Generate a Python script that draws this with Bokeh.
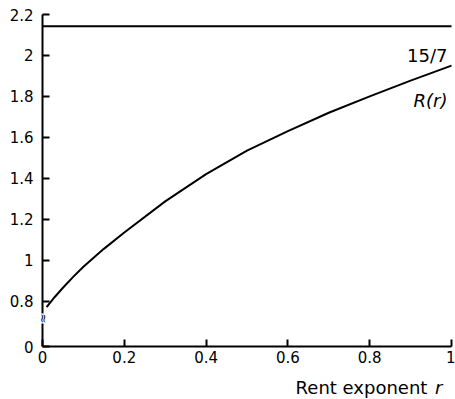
import math
from bokeh.plotting import figure
from bokeh.models import Label, FixedTicker, CustomJSTickFormatter, Range1d
from bokeh.embed import file_html
from bokeh.resources import INLINE

# Data
r_vals = [0.01, 0.03, 0.05, 0.075, 0.1, 0.15, 0.2, 0.3, 0.4, 0.5, 0.6, 0.7, 0.8, 0.9, 1.0]
R_vals = [0.77, 0.82, 0.865, 0.918, 0.968, 1.055, 1.135, 1.287, 1.42, 1.535, 1.63, 1.72, 1.80, 1.877, 1.95]
limit_value = 15 / 7
limit_label = "15/7"
curve_label = "R(r)"

x_ticks = [0, 0.2, 0.4, 0.6, 0.8, 1.0]
x_tick_labels = ["0", "0.2", "0.4", "0.6", "0.8", "1"]
y_ticks = [0.578, 0.8, 1.0, 1.2, 1.4, 1.6, 1.8, 2.0, 2.2]
y_tick_labels = ["0", "0.8", "1", "1.2", "1.4", "1.6", "1.8", "2", "2.2"]
y_break = 0.715

FONT = "DejaVu Sans"

# frame covers the whole canvas; axes are pinned inside it
X0, X1 = -0.1027, 1.0098
Y0, Y1 = 0.3191, 2.2684

p = figure(width=455, height=399, output_backend="svg", toolbar_location=None,
           x_range=Range1d(X0, X1), y_range=Range1d(Y0, Y1),
           min_border_left=0, min_border_right=0, min_border_top=0, min_border_bottom=0)
p.outline_line_color = None
p.xgrid.visible = False
p.ygrid.visible = False
p.background_fill_color = "white"
p.border_fill_color = "white"

p.line(r_vals, R_vals, line_color="black", line_width=2)
p.line([x_ticks[0], x_ticks[-1]], [limit_value, limit_value], line_color="black", line_width=2)

fmt_code = "const i = tvals.findIndex(t => Math.abs(t - tick) < 1e-9); return i >= 0 ? tlabels[i] : '';"
for ax, tv, tl in ((p.xaxis[0], x_ticks, x_tick_labels), (p.yaxis[0], y_ticks, y_tick_labels)):
    ax.ticker = FixedTicker(ticks=tv)
    ax.formatter = CustomJSTickFormatter(args=dict(tvals=tv, tlabels=tl), code=fmt_code)
    ax.bounds = (tv[0], tv[-1])
    ax.axis_line_width = 2
    ax.axis_line_color = "black"
    ax.major_tick_line_width = 2
    ax.major_tick_line_color = "black"
    ax.major_tick_in = 7
    ax.major_tick_out = 0
    ax.minor_tick_line_color = None
    ax.major_label_text_font = FONT
    ax.major_label_text_font_size = "15px"
    ax.major_label_text_color = "black"

p.xaxis[0].fixed_location = y_ticks[0]
p.yaxis[0].fixed_location = x_ticks[0]
p.yaxis.major_label_standoff = 9
p.xaxis.major_label_standoff = 4

# Axis label (mixed style)
p.add_layout(Label(x=0.941, y=0.3777, text="Rent exponent", text_align="right",
                   text_baseline="alphabetic", text_font=FONT, text_font_size="18px",
                   text_color="black"))
p.add_layout(Label(x=0.978, y=0.3777, text="r", text_align="right",
                   text_baseline="alphabetic", text_font=FONT, text_font_size="18px",
                   text_font_style="italic", text_color="black"))

# Curve labels
p.add_layout(Label(x=0.990, y=2.0, text=limit_label, text_align="right",
                   text_baseline="alphabetic", text_font=FONT, text_font_size="18px",
                   text_color="black"))
p.add_layout(Label(x=0.990, y=1.780, text=curve_label, text_align="right",
                   text_baseline="alphabetic", text_font=FONT, text_font_size="18px",
                   text_font_style="italic", text_color="black"))

# Axis break mark
p.add_layout(Label(x=0, y=y_break, text="≈", angle=math.pi / 2, text_align="center",
                   text_baseline="middle", text_font=FONT, text_font_size="12px",
                   text_color="black", background_fill_color="white"))

open("out.html", "w").write(file_html(p, INLINE))
